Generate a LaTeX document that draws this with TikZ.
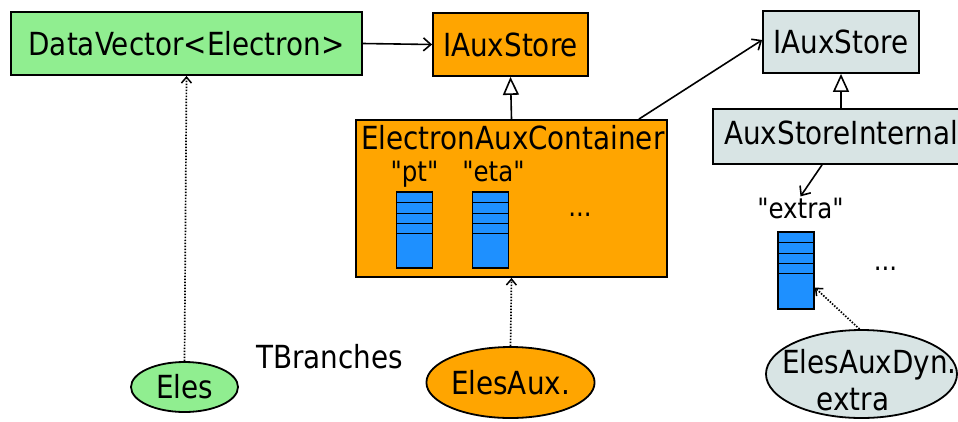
\documentclass[tikz,border=0pt]{standalone}
\usepackage{fontspec}
\setmainfont{DejaVu Sans}[FakeStretch=0.875, Ligatures=TeXOff]
\usetikzlibrary{arrows.meta,shapes.geometric}
\definecolor{cgreen}{HTML}{90EE90}
\definecolor{corange}{HTML}{FFA500}
\definecolor{cgray}{HTML}{D8E4E4}
\definecolor{cblue}{HTML}{1E90FF}
\tikzset{
  bigtxt/.style={font=\fontsize{31.8bp}{36bp}\selectfont},
  midtxt/.style={font=\fontsize{28bp}{32bp}\selectfont},
  boxnode/.style={draw, line width=1.8bp, inner sep=0pt, bigtxt},
  ellnode/.style={draw, ellipse, line width=1.8bp, inner sep=0pt, bigtxt},
  colnode/.style={draw, line width=1.5bp, fill=cblue, inner sep=0pt, minimum width=36bp},
  conn/.style={line width=1.6bp, -{Straight Barb[length=7.5bp,width=13bp,line width=1.6bp]}},
  inherit/.style={line width=1.6bp, -{Triangle[open,length=18bp,width=16bp,line width=1.6bp]}},
  dotconn/.style={line width=1.7bp, dash pattern=on 1.5bp off 1.5bp, -{Straight Barb[length=6bp,width=10bp,line width=1.5bp]}},
}
\begin{document}
\begin{tikzpicture}[x=1bp,y=-1bp]
\useasboundingbox (0,0) rectangle (958,421);
\clip (0,0) rectangle (958,421);
% boxes
\node[boxnode, fill=cgreen, minimum width=351bp, minimum height=63bp] (dv) at (186.5,43.5) {DataVector<Electron>};
\node[boxnode, fill=corange, minimum width=155bp, minimum height=63bp] (ia1) at (510.5,44.5) {IAuxStore};
\node[boxnode, fill=cgray, minimum width=156bp, minimum height=62bp] (ia2) at (841,42) {IAuxStore};
\node[boxnode, fill=corange, minimum width=311bp, minimum height=157bp] (eac) at (511.5,198.5) {};
\node[bigtxt, anchor=base west, inner sep=0pt] (eactitle) at (361,149) {ElectronAuxContainer};
\node[boxnode, fill=cgray, minimum width=267bp, minimum height=55bp] (asi) at (846.5,136.5) {};
\node[bigtxt, anchor=base west, inner sep=0pt] (asititle) at (724,144) {AuxStoreInternal};
% labels
\node[midtxt, anchor=base, inner sep=0pt] (ptlab) at (414.5,181) {"pt"};
\node[midtxt, anchor=base, inner sep=0pt] (etalab) at (493.5,181) {"eta"};
\node[midtxt, anchor=base, inner sep=1pt] (extralab) at (800.5,218) {"extra"};
\node[midtxt, anchor=base, inner sep=0pt] (dots1) at (580,216) {...};
\node[midtxt, anchor=base, inner sep=0pt] (dots2) at (885.5,270) {...};
\node[bigtxt, anchor=base west, inner sep=0pt] (tbr) at (256,368) {TBranches};
% columns
\node[colnode, minimum height=76bp] (col1) at (414.5,230) {};
\node[colnode, minimum height=76bp] (col2) at (490.5,230) {};
\node[colnode, minimum height=77bp] (col3) at (796,270.5) {};
\foreach \c in {col1,col2,col3}{
  \foreach \d in {11,22,32,42}{
    \draw[line width=1.5bp] ([yshift=-\d bp]\c.north west) -- ([yshift=-\d bp]\c.north east);
  }
}
% ellipses
\node[ellnode, fill=cgreen, minimum width=107bp, minimum height=50bp] (eles) at (184.5,387) {Eles};
\node[ellnode, fill=corange, minimum width=157bp, minimum height=71bp] (elesaux) at (510.5,382.5) {ElesAux.};
\node[ellnode, fill=cgray, minimum width=191bp, minimum height=88bp] (dyn) at (861.5,374) {};
\node[bigtxt, anchor=base west, inner sep=0pt] (dyn1) at (782,373) {ElesAuxDyn.};
\node[bigtxt, anchor=base, inner sep=0pt] (dyn2) at (853,410) {extra};
% connectors
\draw[conn] (dv.east) -- (ia1.west);
\draw[inherit] (eac.north) -- (ia1.south);
\draw[conn] ([xshift=-29bp]eac.north east) -- ([yshift=2bp]ia2.west);
\draw[inherit] (asi.north -| ia2.south) -- (ia2.south);
\draw[conn] ([xshift=-24.5bp]asi.south) -- (extralab.north);
\draw[dotconn] (eles.north) -- (dv.south);
\draw[dotconn] (elesaux.north) -- (eac.south);
\draw[dotconn] ([xshift=-2bp]dyn.north) -- ([yshift=-17bp]col3.east);
\end{tikzpicture}
\end{document}
